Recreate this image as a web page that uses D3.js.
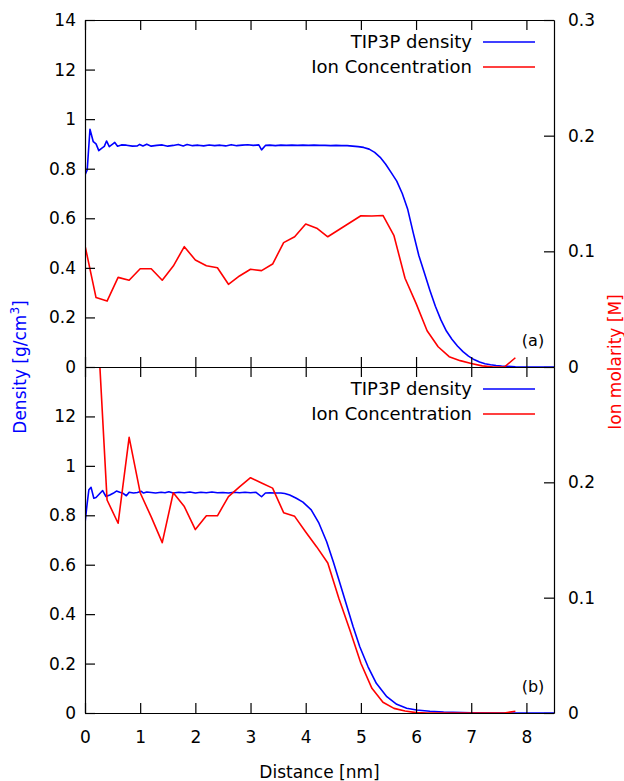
<!DOCTYPE html>
<html>
<head>
<meta charset="utf-8">
<script src="https://cdn.jsdelivr.net/npm/d3@7/dist/d3.min.js"></script>
<style>
  html, body { margin: 0; padding: 0; background: #fff; }
  svg { display: block; font-family: "DejaVu Sans", sans-serif; }
  .axis path, .axis line { stroke: #000; stroke-width: 1.2; }
  .axis text { fill: #000; font-size: 17px; font-family: "DejaVu Sans", sans-serif; }
</style>
</head>
<body>
<svg id="chart" width="624" height="781"></svg>
<script>
// Distance ticks (nm)
const distanceTicks = [0, 1, 2, 3, 4, 5, 6, 7, 8];
// Density axis ticks and their printed labels
const densityTicks = [0, 0.2, 0.4, 0.6, 0.8, 1.0, 1.2, 1.4];
const densityTickLabels = ["0", "0.2", "0.4", "0.6", "0.8", "1", "12", "14"];
// Molarity axis ticks and labels
const molarityTicks = [0, 0.1, 0.2, 0.3];
const molarityTickLabels = ["0", "0.1", "0.2", "0.3"];

// Ion concentration sampling positions (nm)
const ionX = [0.0, 0.2, 0.4, 0.6, 0.8, 1.0, 1.2, 1.4, 1.6, 1.8,
              2.0, 2.2, 2.4, 2.6, 2.8, 3.0, 3.2, 3.4, 3.6, 3.8,
              4.0, 4.2, 4.4, 4.6, 4.8, 5.0, 5.2, 5.4, 5.6, 5.8,
              6.0, 6.2, 6.4, 6.6, 6.8, 7.0, 7.2, 7.4, 7.6, 7.8];
// Panel (a) ion molarity [M]
const ionA = [0.105, 0.060, 0.057, 0.0775, 0.075, 0.085, 0.085, 0.075, 0.0873, 0.104,
              0.0925, 0.0876, 0.0858, 0.0715, 0.0787, 0.0845, 0.0833, 0.089, 0.1075, 0.1126,
              0.1236, 0.120, 0.1126, 0.1187, 0.1247, 0.1308, 0.1305, 0.131, 0.1135, 0.0767,
              0.055, 0.0314, 0.0175, 0.0089, 0.0055, 0.003, 0.001, 0.0, 0.0, 0.008];
// Panel (b) ion molarity [M]
const ionB = [0.40, 0.362, 0.1847, 0.1645, 0.239, 0.191, 0.170, 0.1477, 0.191, 0.179,
              0.159, 0.171, 0.171, 0.1876, 0.196, 0.204, 0.1995, 0.195, 0.1737, 0.1705,
              0.157, 0.144, 0.130, 0.0995, 0.072, 0.0431, 0.0214, 0.0093, 0.004, 0.0017,
              0.0003, 0.0, 0.0, 0.0, 0.0, 0.0, 0.0, 0.0, 0.0, 0.0015];

// Panel (a) TIP3P density profile [distance nm, g/cm3]
const densityA = [
  [0.00, 0.775], [0.04, 0.795], [0.09, 0.959], [0.15, 0.909], [0.20, 0.900],
  [0.25, 0.873], [0.30, 0.882], [0.35, 0.890], [0.39, 0.912], [0.44, 0.889],
  [0.50, 0.899], [0.54, 0.906], [0.59, 0.891], [0.66, 0.896], [0.75, 0.895],
  [0.86, 0.891], [0.95, 0.892], [0.99, 0.898], [1.05, 0.892], [1.12, 0.899],
  [1.20, 0.891], [1.30, 0.894], [1.40, 0.896], [1.50, 0.891], [1.60, 0.894],
  [1.69, 0.898], [1.78, 0.892], [1.85, 0.898], [1.95, 0.893], [2.05, 0.895],
  [2.15, 0.892], [2.25, 0.896], [2.35, 0.893], [2.45, 0.895], [2.55, 0.892],
  [2.65, 0.897], [2.75, 0.893], [2.85, 0.895], [2.95, 0.897], [3.05, 0.894],
  [3.15, 0.896], [3.20, 0.876], [3.27, 0.894], [3.35, 0.895], [3.45, 0.893],
  [3.55, 0.895], [3.65, 0.894], [3.75, 0.895], [3.85, 0.894], [3.95, 0.895],
  [4.05, 0.894], [4.15, 0.895], [4.25, 0.894], [4.35, 0.894], [4.45, 0.893],
  [4.55, 0.894], [4.65, 0.893], [4.75, 0.893], [4.85, 0.891], [4.95, 0.889],
  [5.05, 0.886], [5.15, 0.879], [5.25, 0.866], [5.35, 0.846], [5.45, 0.818],
  [5.55, 0.784], [5.65, 0.750], [5.75, 0.700], [5.85, 0.635], [5.95, 0.540],
  [6.05, 0.450], [6.15, 0.380], [6.25, 0.310], [6.35, 0.245], [6.45, 0.190],
  [6.55, 0.145], [6.65, 0.112], [6.75, 0.085], [6.85, 0.062], [6.95, 0.044],
  [7.05, 0.030], [7.15, 0.020], [7.25, 0.013], [7.35, 0.009], [7.45, 0.006],
  [7.55, 0.004], [7.65, 0.003], [7.80, 0.001], [8.00, 0.000], [8.50, 0.000]
];

// Panel (b) TIP3P density profile [distance nm, g/cm3]
const densityB = [
  [0.00, 0.768], [0.04, 0.849], [0.07, 0.903], [0.11, 0.913], [0.16, 0.869],
  [0.20, 0.872], [0.26, 0.886], [0.32, 0.900], [0.38, 0.876], [0.45, 0.882],
  [0.51, 0.889], [0.57, 0.898], [0.63, 0.893], [0.69, 0.889], [0.75, 0.879],
  [0.80, 0.893], [0.88, 0.890], [0.95, 0.892], [1.02, 0.897], [1.06, 0.890],
  [1.12, 0.894], [1.20, 0.892], [1.28, 0.890], [1.38, 0.893], [1.45, 0.891],
  [1.52, 0.895], [1.60, 0.890], [1.70, 0.893], [1.80, 0.891], [1.90, 0.894],
  [2.00, 0.890], [2.10, 0.893], [2.20, 0.891], [2.30, 0.894], [2.40, 0.891],
  [2.50, 0.892], [2.60, 0.890], [2.70, 0.893], [2.80, 0.891], [2.90, 0.893],
  [3.00, 0.891], [3.10, 0.893], [3.20, 0.875], [3.27, 0.890], [3.35, 0.891],
  [3.45, 0.890], [3.55, 0.890], [3.62, 0.888], [3.71, 0.882], [3.83, 0.869],
  [3.95, 0.853], [4.10, 0.822], [4.24, 0.768], [4.38, 0.693], [4.50, 0.612],
  [4.62, 0.525], [4.74, 0.437], [4.86, 0.349], [4.98, 0.268], [5.13, 0.187],
  [5.28, 0.120], [5.47, 0.066], [5.65, 0.035], [5.83, 0.019], [6.01, 0.012],
  [6.25, 0.007], [6.50, 0.004], [7.00, 0.001], [7.50, 0.000], [8.50, 0.000]
];

const legendLabels = ["TIP3P density", "Ion Concentration"];
const seriesColors = ["#0000ff", "#ff0000"];
const panelTags = ["(a)", "(b)"];

const svg = d3.select("#chart");
const left = 85, right = 554;
const panels = [
  { top: 20, bottom: 367, density: densityA, ion: ionA, tag: panelTags[0], showTop: true },
  { top: 367, bottom: 713, density: densityB, ion: ionB, tag: panelTags[1], showTop: false }
];

const x = d3.scaleLinear().domain([0, 8.5]).range([left, right]);

panels.forEach((p, i) => {
  const yL = d3.scaleLinear().domain([0, 1.4]).range([p.bottom, p.top]);
  const yR = d3.scaleLinear().domain([0, 0.3]).range([p.bottom, p.top]);
  const g = svg.append("g");

  const clipId = "clip" + i;
  svg.append("clipPath").attr("id", clipId)
    .append("rect").attr("x", left).attr("y", p.top)
    .attr("width", right - left).attr("height", p.bottom - p.top);

  // Data curves
  const densLine = d3.line().x(d => x(d[0])).y(d => yL(d[1]));
  const ionLine = d3.line().x((d, k) => x(ionX[k])).y(d => yR(d));
  const curves = g.append("g").attr("clip-path", `url(#${clipId})`);
  curves.append("path").datum(p.density)
    .attr("d", densLine).attr("fill", "none")
    .attr("stroke", seriesColors[0]).attr("stroke-width", 1.6)
    .attr("stroke-linejoin", "round");
  curves.append("path").datum(p.ion)
    .attr("d", ionLine).attr("fill", "none")
    .attr("stroke", seriesColors[1]).attr("stroke-width", 1.6)
    .attr("stroke-linejoin", "round");

  // Left axis (density)
  const lTicks = p.showTop ? densityTicks : densityTicks.slice(0, -1);
  g.append("g").attr("class", "axis")
    .attr("transform", `translate(${left},0)`)
    .call(d3.axisLeft(yL).tickValues(lTicks)
      .tickFormat(v => densityTickLabels[densityTicks.indexOf(v)])
      .tickSizeInner(-10).tickSizeOuter(0).tickPadding(9));

  // Right axis (molarity)
  const rTicks = p.showTop ? molarityTicks : molarityTicks.slice(0, -1);
  g.append("g").attr("class", "axis")
    .attr("transform", `translate(${right},0)`)
    .call(d3.axisRight(yR).tickValues(rTicks)
      .tickFormat(v => molarityTickLabels[molarityTicks.indexOf(v)])
      .tickSizeInner(-10).tickSizeOuter(0).tickPadding(14));

  // Top edge (mirror ticks)
  g.append("g").attr("class", "axis")
    .attr("transform", `translate(0,${p.top})`)
    .call(d3.axisTop(x).tickValues(distanceTicks).tickFormat("")
      .tickSizeInner(-10).tickSizeOuter(0));

  // Bottom edge
  const bottomAxis = d3.axisBottom(x).tickValues(distanceTicks)
    .tickSizeInner(-10).tickSizeOuter(0).tickPadding(18);
  if (i === 0) bottomAxis.tickFormat("");
  g.append("g").attr("class", "axis")
    .attr("transform", `translate(0,${p.bottom})`)
    .call(bottomAxis);

  // Legend
  const legendYs = [p.top + 22, p.top + 47];
  legendLabels.forEach((lab, k) => {
    g.append("text").attr("x", 472).attr("y", legendYs[k]).attr("dy", "0.36em")
      .attr("text-anchor", "end").attr("font-size", 18).attr("fill", "#000")
      .text(lab);
    g.append("line").attr("x1", 483).attr("x2", 535)
      .attr("y1", legendYs[k]).attr("y2", legendYs[k])
      .attr("stroke", seriesColors[k]).attr("stroke-width", 1.6);
  });

  // Panel tag
  g.append("text").attr("x", 533).attr("y", p.bottom - 21)
    .attr("text-anchor", "middle").attr("font-size", 16).attr("fill", "#000")
    .text(p.tag);
});

// Axis titles
const dTitle = svg.append("text")
  .attr("transform", "translate(26,367) rotate(-90)")
  .attr("text-anchor", "middle").attr("font-size", 17).attr("fill", "#0000ff");
dTitle.append("tspan").text("Density [g/cm");
dTitle.append("tspan").attr("baseline-shift", "super").attr("font-size", 12).text("3");
dTitle.append("tspan").text("]");

svg.append("text")
  .attr("transform", "translate(621,362) rotate(-90)")
  .attr("text-anchor", "middle").attr("font-size", 17).attr("fill", "#ff0000")
  .text("Ion molarity [M]");

svg.append("text")
  .attr("x", (left + right) / 2).attr("y", 778)
  .attr("text-anchor", "middle").attr("font-size", 17).attr("fill", "#000")
  .text("Distance [nm]");
</script>
</body>
</html>
